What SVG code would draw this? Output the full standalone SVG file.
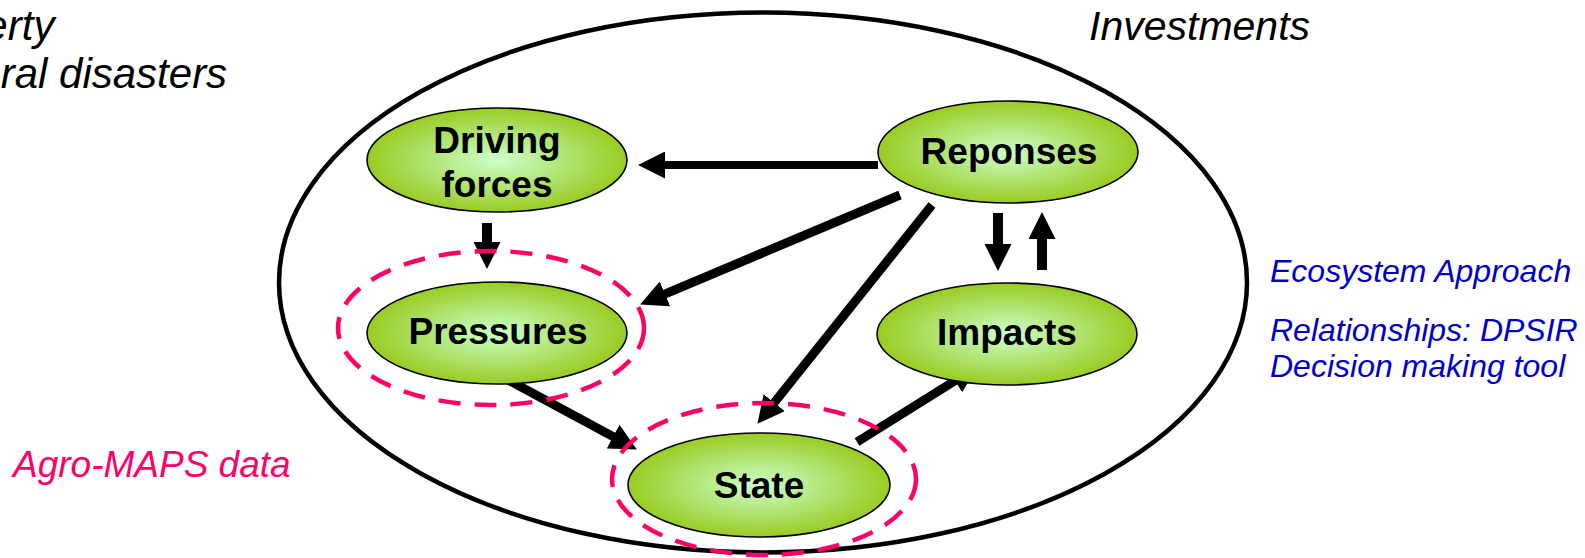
<svg xmlns="http://www.w3.org/2000/svg" width="1585" height="558" viewBox="0 0 1585 558">
<style>
.node{stroke:#000;stroke-width:1.6;fill:url(#g)}
.lbl{font-family:"Liberation Sans",Arial,sans-serif;font-weight:bold;font-size:37px;fill:#000;text-anchor:middle}
.it{font-family:"Liberation Sans",Arial,sans-serif;font-style:italic}
.dash{fill:none;stroke:#FF0066;stroke-width:4.5;stroke-dasharray:22 14}
.conn path{stroke:#000;stroke-width:9;fill:none;marker-end:url(#ah)}
</style>
<defs>
<radialGradient id="g" cx="50%" cy="50%" r="50%">
<stop offset="0" stop-color="#CCFFCC"/>
<stop offset="1" stop-color="#99CC22"/>
</radialGradient>
<marker id="ah" markerUnits="userSpaceOnUse" markerWidth="27" markerHeight="27" viewBox="0 0 27 27" refX="10" refY="13.5" orient="auto">
<path d="M0,0 L27,13.5 L0,27 z" fill="#000"/>
</marker>
</defs>
<rect width="1585" height="558" fill="#fff"/>
<g id="frame"><ellipse cx="763" cy="282.5" rx="484" ry="270" fill="none" stroke="#000" stroke-width="4.5"/></g>
<g id="texts">
<text class="it" x="-88" y="40" font-size="42" fill="#000">Poverty</text>
<text class="it" x="-88" y="88" font-size="42" fill="#000">Natural disasters</text>
<text class="it" x="1089" y="40" font-size="41" fill="#000">Investments</text>
<text class="it" x="13" y="477" font-size="37" fill="#FF0066">Agro-MAPS data</text>
<text class="it" x="1270" y="282" font-size="32" fill="#0000CC">Ecosystem Approach</text>
<text class="it" x="1270" y="341" font-size="32" fill="#0000CC">Relationships: DPSIR</text>
<text class="it" x="1270" y="377" font-size="32" fill="#0000CC">Decision making tool</text>
</g>
<g id="connectors" class="conn">
<path d="M878,165 L655,165" style="stroke-width:8"/>
<path d="M487,223 L487,252" style="stroke-width:10"/>
<path d="M900,195 L655.8,297.8"/>
<path d="M932,205 L768,410.5"/>
<path d="M998,213 L998,254" style="stroke-width:10"/>
<path d="M1042,270 L1042,229" style="stroke-width:10"/>
<path d="M497,374 L621.9,441.4"/>
<path d="M857,442 L963.4,375.5"/>
</g>
<g id="driving"><ellipse class="node" cx="497" cy="160" rx="130" ry="52"/><text class="lbl" x="497" y="153">Driving</text><text class="lbl" x="497" y="197">forces</text></g>
<g id="reponses"><ellipse class="node" cx="1008" cy="152" rx="130" ry="51"/><text class="lbl" x="1009" y="164">Reponses</text></g>
<g id="pressures"><ellipse class="node" cx="497" cy="333" rx="130" ry="51"/><text class="lbl" x="498" y="344">Pressures</text></g>
<g id="impacts"><ellipse class="node" cx="1007" cy="334" rx="130" ry="51"/><text class="lbl" x="1007" y="345">Impacts</text></g>
<g id="state"><ellipse class="node" cx="759" cy="485" rx="131" ry="52"/><text class="lbl" x="759" y="498">State</text></g>
<g id="highlights">
<ellipse class="dash" cx="491" cy="328" rx="153" ry="77"/>
<ellipse class="dash" cx="764" cy="479" rx="152" ry="76"/>
</g>
</svg>
